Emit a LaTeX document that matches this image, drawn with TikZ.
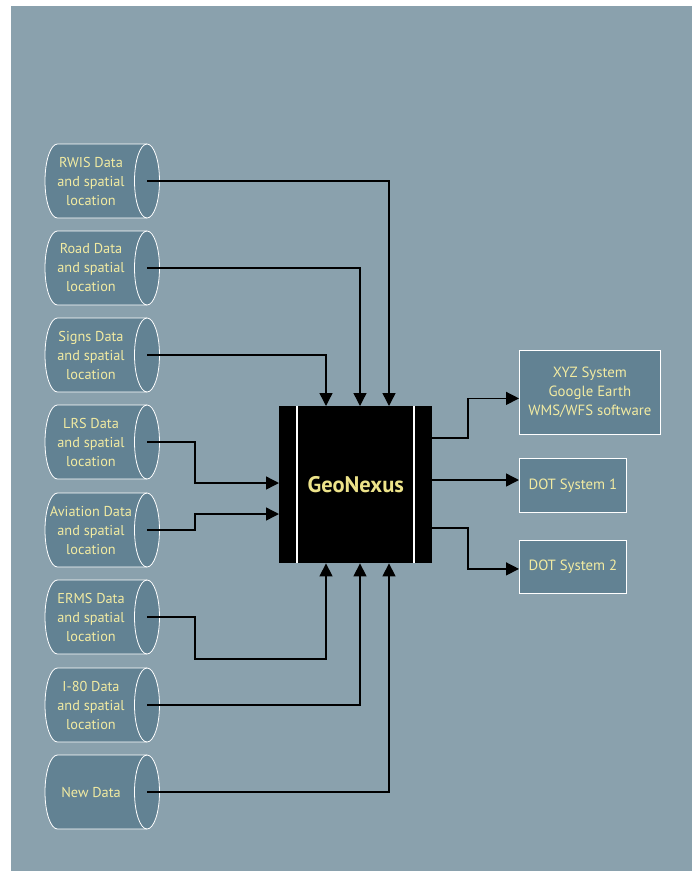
\documentclass[tikz,border=0pt]{standalone}
\usepackage{fontspec}
\setmainfont{PT Sans}
\usetikzlibrary{arrows.meta,calc}
\definecolor{bgc}{HTML}{8AA1AD}
\definecolor{cylc}{HTML}{628293}
\definecolor{txtc}{HTML}{F2EBA2}
\definecolor{geoc}{HTML}{EDE38A}
\tikzset{
  cylbody/.style={fill=cylc,draw=white,line width=0.8pt},
  cyltext/.style={text=txtc,font=\fontsize{14.3}{19}\selectfont,align=center,inner sep=0pt},
  outbox/.style={fill=cylc,draw=white,line width=0.8pt,text=txtc,font=\fontsize{14.8}{19}\selectfont,align=center,inner sep=0pt},
  conn/.style={line width=1.4pt,draw=black},
  arr/.style={conn,-{Triangle[length=13pt,width=13pt]}}
}
\newcommand\datacyl[3]{%
  \path[cylbody] (57.5,#2-37) -- (147,#2-37) arc[start angle=270,end angle=450,x radius=12.5,y radius=37]
     -- (57.5,#2+37) arc[start angle=90,end angle=270,x radius=12.5,y radius=37] -- cycle;
  \draw[white,line width=0.8pt] (147,#2-37) arc[start angle=270,end angle=90,x radius=12.5,y radius=37];
  \node[cyltext] (#1) at (91,#2) {#3};
  \coordinate (#1e) at (147,#2);
}
\begin{document}
\begin{tikzpicture}[x=1pt,y=-1pt]
\useasboundingbox (0,0) rectangle (692,871);
\fill[white] (0,0) rectangle (692,871);
\fill[bgc] (11,6) rectangle (692,871);
\datacyl{rwis}{181}{RWIS Data\\and spatial\\location}
\datacyl{road}{268}{Road Data\\and spatial\\location}
\datacyl{signs}{355}{Signs Data\\and spatial\\location}
\datacyl{lrs}{442}{LRS Data\\and spatial\\location}
\datacyl{avi}{530}{Aviation Data\\and spatial\\location}
\datacyl{erms}{617}{ERMS Data\\and spatial\\location}
\datacyl{ieighty}{705}{I-80 Data\\and spatial\\location}
\datacyl{newd}{792}{New Data}
% GeoNexus block
\node[fill=black,minimum width=153pt,minimum height=157pt,inner sep=0pt,anchor=north west] (geo) at (279,406) {};
\fill[white] (296,406) rectangle (298.2,563);
\fill[white] (413,406) rectangle (415.2,563);
\node[text=geoc,font=\fontsize{22.5}{26}\selectfont\bfseries] (geot) at (geo.center) {GeoNexus};
% output boxes
\node[outbox,minimum width=141pt,minimum height=84pt,anchor=north west] (xyz) at (519,350) {XYZ System\\Google Earth\\WMS/WFS software};
\node[outbox,minimum width=107pt,minimum height=54pt,anchor=north west] (dot1) at (519,458) {DOT System 1};
\node[outbox,minimum width=107pt,minimum height=53pt,anchor=north west] (dot2) at (519,540) {DOT System 2};
% coordinates on the block
\coordinate (t1) at ($(geo.north west)+(47,0)$);
\coordinate (t2) at ($(geo.north west)+(81,0)$);
\coordinate (t3) at ($(geo.north west)+(110,0)$);
\coordinate (b1) at ($(geo.south west)+(47,0)$);
\coordinate (b2) at ($(geo.south west)+(81,0)$);
\coordinate (b3) at ($(geo.south west)+(110,0)$);
\coordinate (l1) at ($(geo.north west)+(0,77)$);
\coordinate (l2) at ($(geo.north west)+(0,108)$);
\coordinate (r1) at ($(geo.north east)+(0,32)$);
\coordinate (r2) at ($(geo.north east)+(0,74)$);
\coordinate (r3) at ($(geo.north east)+(0,122)$);
% inputs
\draw[arr] (rwise) -| (t3);
\draw[arr] (roade) -| (t2);
\draw[arr] (signse) -| (t1);
\draw[arr] (lrse) -- (195,442) |- (l1);
\draw[arr] (avie) -- (195,530) |- (l2);
\draw[arr] (ermse) -- (195,617) -- (195,659) -| (b1);
\draw[arr] (ieightye) -| (b2);
\draw[arr] (newde) -| (b3);
% outputs
\draw[arr] (r1) -- (468,438) |- ($(xyz.west)+(0,6)$);
\draw[arr] (r2) -- (dot1.west |- r2);
\draw[arr] (r3) -- (468,528) |- ($(dot2.west)+(0,2)$);
\end{tikzpicture}
\end{document}
